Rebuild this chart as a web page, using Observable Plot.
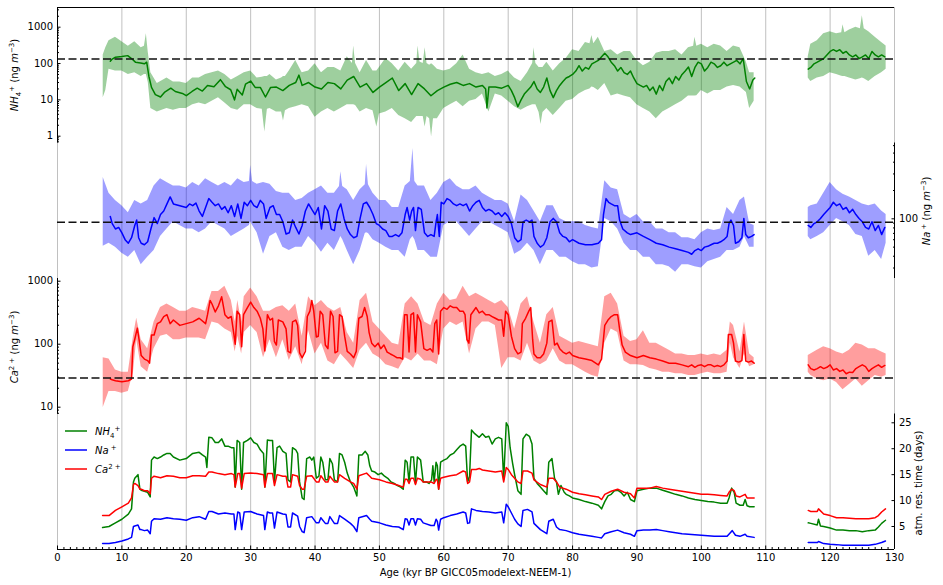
<!DOCTYPE html>
<html><head><meta charset="utf-8">
<script src="https://cdn.jsdelivr.net/npm/d3@7"></script>
<script src="https://cdn.jsdelivr.net/npm/@observablehq/plot@0.6"></script>
<style>
body{margin:0;background:#fff;}
#chart{position:relative;width:943px;height:585px;font-family:"DejaVu Sans",sans-serif;}
#chart svg{position:absolute;left:0;top:0;overflow:visible;}
</style></head><body><div id="chart"></div>
<script>
// ---------------- data ----------------
const xMajorTicks = [0,10,20,30,40,50,60,70,80,90,100,110,120,130];
const nh4Ticks = [1,10,100,1000];
const naTicks = [100];
const caTicks = [10,100,1000];
const resTicks = [5,10,15,20,25];
const nh4Ref = 134, naRef = 92, caRef = 29;
const nh4Domain = [0.65, 3483], naDomain = [23.2, 640], caDomain = [7.8, 1104], resDomain = [0.56, 26.7];

const nh4Mean = [[8.2,116],[8.5,133],[9,150],[10,157],[10.9,165],[11.5,137],[12.1,109],[12.9,104],[13.5,98],[13.85,109],[14.2,44],[14.6,22],[15.2,14],[16,12],[16.6,16],[17.6,21],[18.3,17],[19.4,15],[20,13],[20.9,17],[21.7,21],[22.5,17.5],[23.3,25],[24.3,23],[25.3,36],[26.1,23],[26.9,19],[27.5,10],[27.9,19.5],[28.7,13.6],[29.2,27],[30,33],[30.7,22],[31.5,22],[32.3,12],[33.1,22],
[34,22.5],[35,18],[36,25],[37,30],[37.5,48],[38,25],[39,30],[40,22.5],[41,20],[42,30],[43,28],[44,20],[45,35],[46,44],[47,22.5],[48,28],[49,16],[50,22.5],[51,30],[52,40],[53,18],[54,28],[55,14],[56,28],[57,20],[58,13],[59,18],[60,22.5],[61,27],[62,30],[63,25],[64,28],[65,22.5],
[66,25],[66.5,20],[66.7,6],[67,22.5],[68,22.5],[69,21],[70,25],[70.5,18],[71,11.5],[71.5,6.5],[72,10],[72.5,14.4],[73,18],[73.5,22.5],[74,32],[74.5,20],[75,16],[75.5,22.5],[76,40],[76.5,18],[77,11.5],[77.5,18],[78,25],[78.5,32],[79,40],[79.5,44],[80,50],[80.5,62],[81,87],[81.5,62],[82,78],[82.5,70],[83,98],[83.5,109],[84,122],[84.5,153],[85,192],[85.5,153],[86,109],[86.5,87],[87,62],[87.5,78],[88,56],[88.5,50],[89,62],[89.5,40],[90,28],[90.5,25],[91,22.5],[91.5,25],[92,18],[92.5,22.5],[93,14.4],[93.5,25],[94,18],[94.5,32],[95,40],[95.5,28],[96,44],[96.5,35],[97,50],[97.5,62],[98,80],
[98.5,44],[99,78],[99.5,109],[100,98],[100.5,62],[101,78],[101.5,109],[102,98],[102.5,78],[103,87],[103.5,109],[104,87],[104.5,98],[105,109],[105.5,122],[106,98],[106.5,137],[107,32],[107.5,20],[108,35],[108.3,40],
[112,NaN],
[116.6,70],[117,78],[117.5,98],[118,109],[118.5,122],[119,137],[119.5,172],[120,215],[120.5,241],[121,215],[121.5,241],[122,192],[122.5,215],[123,172],[123.5,153],[124,172],[124.5,137],[125,153],[125.5,172],[126,137],[126.5,215],[127,172],[127.5,153],[128,172],[128.5,153]];

const nh4Band = [[7.1,11.5,172],[7.5,18,270],[8,70,424],[9,62,531],[10,62,400],[11,50,300],[12,56,400],[13,44,270],[13.5,50,300],[13.8,50,665],[14.1,30,200],[14.5,5.8,56],[15.5,4.6,28],[17,5.8,40],[18,5.2,31],[19,5.8,31],[20,5.8,28],[21,7.3,40],[22,8.2,40],[23,7.3,50],[24,9.1,56],[25,11.5,62],[26,8.2,50],[27,5.8,35],[28,5.2,44],[29,7.3,56],[30,7.3,62],[31,5.8,40],[31.8,5.5,42],[32.2,1.3,44],[32.6,5.5,44],[33,5.8,50],
[34,4.6,35],[34.8,4.6,40],[35.1,2.6,44],[35.4,5,44],[36,5.8,62],[37,6.5,122],[38,7.3,56],[39,6.5,62],[40,3.3,98],[41,4.6,56],[42,5.8,78],[43,4.6,78],[44,5.8,62],[45,7.3,153],[45.8,7.3,100],[46,7.3,302],[46.3,7,100],[47,4.6,56],[48,5.8,122],[49,5,62],[49.6,1.8,62],[50,4.1,78],[51,4.6,137],[52,5.8,98],[53,3.7,62],[54,3.0,109],[55,2.4,70],[55.8,3.5,100],[56,3.5,302],[56.3,3.5,110],[56.8,3.5,100],[57.1,1.8,270],[57.4,3.5,100],[57.8,3,90],[58.1,0.95,98],[58.4,3,90],[59,3.0,70],[60,5.8,62],[61,7.3,70],[62,9.1,98],[63,6.5,172],[64,9.1,70],[65,10.2,56],
[66,14.4,50],[67,4.6,56],[68,14.4,44],[69,12.8,50],[70,9.1,62],[71,6.5,40],[72,5.2,32],[73,6.5,56],[73.8,7.3,100],[74,7.3,270],[74.3,7.3,100],[74.8,4.5,78],[75.1,2.1,78],[75.4,4.5,78],[76,5.8,109],[77,3.7,62],[78,5.8,98],[79,9.1,137],[80,10.2,241],[81,14.4,215],[82,18,378],[82.7,20,350],[83,22.5,594],[83.3,22,350],[84,18,531],[85,28,215],[86,12.8,241],[87,14.4,172],[88,12.8,215],[89,11.5,215],[90,7.3,122],[91,5.8,87],[92,4.6,109],[93,3.0,192],[94,4.6,215],[95,5.8,215],[96,7.3,241],[97,9.1,172],[98,12.8,270],
[98.8,12.8,300],[99,12.8,531],[99.3,13,300],[100,18,338],[101,14.4,270],[102,18,338],[103,18,302],[104,22.5,215],[105,25,302],[106,22.5,270],[107,16,109],[107.5,5.8,56],[108.2,9.1,56],
[112,NaN,NaN],
[116.6,40,153],[117,32,338],[118,40,424],[119,44,665],[120,56,745],[121,50,665],[121.8,45,700],[122,44,1170],[122.3,44,700],[123,40,834],[124,35,1000],[124.7,38,900],[125,40,2056],[125.3,38,900],[126,32,745],[127,44,531],[128,56,378],[128.7,70,302]];

const naMean = [[8.2,106],[8.5,89],[9,78],[9.5,81],[10,71],[10.5,60],[11,55],[11.5,63],[12,85],[12.3,97],[12.6,63],[13,55],[13.5,53],[14,57],[14.5,78],[15,103],[15.5,89],[16,111],[16.5,121],[17,144],[17.5,171],[18,144],[19,138],[20,132],[20.5,144],[21,138],[21.5,147],[22,121],[22.5,106],[23,132],[23.5,164],[24,150],[24.5,138],[25,144],[25.5,126],[26,135],[26.5,116],[27,138],[27.5,106],[28,144],[28.5,101],[29,150],[29.5,138],[30,157],[30.5,138],[31,132],[31.5,157],[32,144],[32.4,101],[33,132],[33.5,138],[34,111],[34.5,111],[35,93],[35.5,69],[36,71],[36.5,97],[37,81],[37.5,69],[38,85],[38.5,121],[39,144],[39.5,126],[40,111],[40.5,132],[41,78],[41.5,138],[42,121],[42.5,78],[43,75],[43.5,121],[44,144],[44.5,101],[45,78],[45.5,68],[46,63],[46.5,65],[47,101],[47.5,144],[48,150],[48.5,132],[49,111],[49.5,89],[50,85],[50.5,78],[51,75],[51.5,65],[52,65],[52.5,68],[53,65],[53.5,71],[54,111],[54.3,132],[54.7,97],[55,121],[55.3,132],[55.6,75],[56,132],[56.5,126],[57,71],[57.5,65],[58,68],[58.5,65],[58.8,93],[59,111],[59.3,65],[59.6,150],[60,144],[60.5,164],[61,157],[61.5,144],[62,138],[62.5,144],[63,138],[63.5,144],[64,121],[64.5,138],[65,150],[65.5,157],[66,132],[66.5,121],[67,126],[67.5,121],[68,111],[68.5,116],[69,106],[69.5,116],[70,106],[70.5,89],[71,63],[71.5,57],[72,60],[72.3,93],[72.8,97],[73.3,93],[73.7,97],[74,65],[74.5,55],[75,50],[75.5,53],[76,63],[76.5,93],[77,101],[77.5,93],[78,71],[78.5,65],[79,63],[79.5,57],[80,60],[81,55],[82,53],[83,53],[84,55],[84.5,60],[84.8,111],[85.2,164],[85.6,150],[86,144],[86.5,138],[87,138],[87.3,97],[87.8,78],[88.5,71],[89,68],[90,71],[91,65],[92,60],[93,55],[94,53],[95,50],[96,48],[97,46],[98,44],[98.5,42],[99,46],[99.5,48],[100,46],[100.5,50],[101,51],[101.5,53],[102,55],[102.5,55],[103,57],[103.5,60],[104,65],[104.3,89],[104.6,97],[105,85],[105.3,55],[105.8,57],[106.3,63],[106.6,101],[106.9,68],[107.3,63],[107.8,65],[108.2,68],
[112,NaN],
[116.6,85],[117,81],[117.5,89],[118,93],[118.5,101],[119,111],[119.5,121],[120,132],[120.5,150],[121,138],[121.5,144],[122,126],[122.5,132],[123,116],[123.5,126],[124,111],[124.5,101],[125,93],[125.5,81],[126,78],[126.5,93],[127,75],[127.5,85],[128,68],[128.5,81]];

const naBand = [[7.1,51,275],[8,55,187],[9,50,157],[10,43,138],[11,39,116],[12,46,157],[13,32.5,144],[14,39,157],[15,46,223],[16,65,266],[17,78,243],[18,93,223],[19,85,223],[20,78,213],[21,78,243],[22,71,223],[23,78,266],[24,93,243],[25,85,223],[26,78,243],[27,65,223],[28,71,266],[29,78,243],[29.8,85,250],[30,93,370],[30.3,85,250],[31,71,233],[32,42,243],[33,65,233],
[34,71,195],[35,50,187],[36,46,187],[37,50,157],[38,50,164],[39,65,187],[40,55,204],[41,44,223],[42,55,187],[43,46,187],[43.8,60,220],[44,65,316],[44.3,60,220],[45,46,204],[46,32.5,157],[47,46,204],[47.8,70,230],[48,71,377],[48.3,70,230],[49,60,187],[50,55,157],[51,50,157],[52,46,132],[53,46,132],[54,39,223],[54.8,60,250],[55.2,65,559],[55.5,60,250],[56,46,223],[57,46,223],[58,39,157],[59,39,187],[60,85,243],[61,93,266],[62,93,223],[63,78,204],[64,65,204],[65,78,223],
[66,93,187],[67,93,171],[68,85,157],[69,78,157],[70,71,144],[71,42,93],[72,46,179],[73,55,157],[74,46,121],[75,32.5,93],[76,46,138],[77,46,138],[78,39,101],[79,39,93],[80,35,93],[81,32.5,93],[82,32.5,85],[83,30,81],[84,31,78],[85,101,254],[86,93,213],[87,78,204],[88,55,111],[89,46,101],[90,46,111],[91,39,93],[92,39,93],[93,32.5,78],[94,32.5,78],[95,31,71],[96,27,71],[97,32.5,63],[98,32.5,63],
[99,31,60],[100,30,71],[101,35,78],[102,37,75],[103,39,78],[104,46,132],[105,46,111],[106,50,157],[106.7,65,171],[107.5,50,89],[108.2,50,85],
[112,NaN,NaN],
[116.6,65,132],[117,60,138],[118,65,144],[119,71,187],[120,85,243],[121,101,204],[122,93,182],[123,85,171],[124,68,157],[125,65,144],[126,40,138],[127,46,144],[128,37,121],[128.7,55,111]];

const caMean = [[8.2,28],[8.5,27.3],[9,26.3],[10,25.3],[11,26.3],[11.5,28],[11.7,91],[12,120],[12.4,180],[12.7,113],[13,66],[13.5,58],[14,55],[14.3,50],[14.6,140],[15,140],[15.5,212],[16,226],[16.5,275],[17,294],[17.5,212],[18,242],[19,199],[20,212],[21,226],[22,258],[23,212],[23.3,294],[23.7,496],[24,435],[24.5,325],[25,407],[25.5,565],[26,294],[26.5,258],[27,275],[27.4,143],[27.6,100],[27.9,335],[28.3,294],[28.6,91],[28.9,294],[29.5,382],[30,465],[30.5,382],[31,335],[31.5,258],[31.9,175],[32.2,78],[32.6,294],[33,242],[33.4,258],[33.7,110],[34,97],[34.3,242],[35,226],[35.5,175],[35.8,77],[36.2,73],[36.5,226],[37,242],[37.3,199],[37.6,73],[38,61],[38.5,77],[38.8,275],[39.2,335],[39.5,496],[39.8,335],[40.2,130],[40.5,134],[40.8,335],[41.2,294],[41.6,97],[42,85],[42.4,335],[42.8,275],[43.1,73],[43.5,77],[43.8,294],[44.2,275],[44.6,134],[45,77],[45.5,70],[46,61],[46.4,77],[46.8,258],[47.3,275],[47.7,382],[48.1,275],[48.4,153],[48.8,104],[49.3,91],[49.8,104],[50.2,85],[50.7,97],[51.2,75],[51.7,70],[52.2,66],[52.7,61],[53.2,61],[53.6,58],[53.9,294],[54.3,294],[54.6,75],[54.9,294],[55.3,314],[55.6,75],[55.9,294],[56.4,226],[56.9,85],[57.4,80],[57.9,85],[58.3,75],[58.6,212],[58.9,242],[59.2,70],[59.5,335],[60,382],[60.5,358],[61,407],[61.5,382],[62,382],[62.5,335],[63,335],[63.3,294],[63.6,118],[63.9,104],[64.2,294],[65,382],[65.5,314],[66,335],[66.5,294],[67,294],[67.5,275],[68,258],[68.5,242],[69,242],[69.3,134],[69.6,335],[70,294],[70.5,134],[71,85],[71.5,70],[72,75],[72.2,212],[72.7,258],[73.2,335],[73.5,382],[73.8,118],[74,70],[74.5,61],[75,61],[75.5,70],[76,104],[76.3,226],[76.8,242],[77.2,97],[77.6,104],[78,85],[78.5,75],[79,70],[79.5,75],[80,66],[81,61],[82,58],[83,55],[84,47],[84.5,58],[85,199],[85.5,242],[86,275],[86.5,294],[87,294],[87.3,175],[87.7,97],[88.2,75],[89,66],[90,61],[91,66],[92,61],[93,58],[94,54],[95,50],[96,50],[97,47],[98,44],[98.5,47],[99,43],[99.5,46],[100,47],[100.5,44],[101,47],[101.5,47],[102,44],[102.5,46],[103,44],[103.5,47],[104,54],[104.2,143],[104.7,143],[105,104],[105.3,54],[105.8,52],[106.3,55],[106.6,143],[106.9,54],[107.3,52],[107.8,54],[108.2,50],
[112,NaN],
[116.6,47],[117,41],[117.5,39],[118,41],[118.5,44],[119,41],[119.5,43],[120,47],[120.5,39],[121,41],[121.5,37],[122,39],[122.5,34],[123,36],[123.5,35.5],[124,41],[124.5,44],[125,47],[125.5,44],[126,37],[126.5,41],[127,44],[127.5,47],[128,43],[128.5,46]];

const caBand = [[7.1,9.9,61],[8,17.8,58],[9,17.8,39],[10,16.6,36],[11,17.8,36],[11.8,36,134],[12.3,118,258],[13,44,118],[14,36,85],[15,85,226],[16,134,382],[17,143,435],[18,118,382],[19,118,335],[20,126,335],[21,126,382],[22,126,358],[23,118,335],[24,226,687],[25,212,687],[26,175,835],[27,153,496],[27.6,75,226],[28,134,496],[28.6,70,226],[29,153,565],[30,199,783],[31,153,565],[32,61,335],[33,118,335],
[34,61,382],[35,118,407],[36,55,335],[37,91,435],[38,47,134],[39,163,565],[40,70,407],[41,104,496],[42,54,382],[43,47,335],[44,70,382],[45,54,153],[46,41,104],[47,80,496],[48,104,644],[49,70,226],[50,61,175],[51,47,134],[52,44,104],[53,40,97],[54,61,435],[55,54,565],[56,70,435],[57,54,226],[58,54,199],[59,47,435],[60,175,644],[61,226,496],[62,199,520],[63,226,835],[64,70,565],[65,175,644],
[66,226,565],[67,226,496],[68,199,435],[69,41,496],[70,61,382],[71,61,175],[72,54,435],[73,104,565],[74,54,226],[75,47,104],[76,54,294],[77,85,382],[78,54,134],[79,47,118],[80,47,104],[81,41,110],[82,36,104],[83,32,97],[84,30,91],[85,104,565],[86,175,644],[87,153,435],[88,54,134],[89,47,110],[90,47,118],[91,46,163],[92,41,104],[93,39,104],[94,36,91],[95,36,80],[96,34,70],[97,34,70],[98,32,66],
[99,32,66],[100,34,70],[101,36,66],[102,34,70],[103,34,66],[104,36,80],[104.5,104,226],[105,61,199],[106,41,75],[106.7,70,226],[107.5,44,70],[108.2,47,61],
[112,NaN,NaN],
[116.6,36,66],[117,32,70],[118,28,80],[119,26.3,91],[120,28,85],[121,24.6,75],[122,19,70],[123,23,80],[124,28,104],[125,21.6,97],[126,26.3,85],[127,32,85],[128,30,75],[128.7,32,70]];

const nh4Res = [[7,4.8],[8,5.0],[9,5.7],[10,6.4],[11,7.4],[11.5,8.4],[11.8,13.6],[12,14.3],[12.5,15.0],[12.8,12.2],[13,12.0],[13.5,11.8],[14,11.6],[14.4,10.7],[14.6,17.8],[15,18.4],[15.5,18.1],[16,18.4],[16.5,18.8],[17,19.1],[17.5,19.1],[18,18.4],[19,17.8],[20,18.1],[21,19.1],[22,19.3],[22.5,18.8],[23,18.4],[23.2,16.4],[23.5,22.2],[24,22.1],[24.5,21.2],[25,21.2],[25.5,21.9],[26,20.5],[26.5,20.5],[27,20.2],[27.4,20.2],[27.6,12.6],[27.9,21.6],[28.3,21.2],[28.6,12.2],[28.9,21.2],[29.5,21.6],[30,22.1],[30.5,21.2],[31,20.9],[31.5,19.8],[32,19.1],[32.2,12.6],[32.6,21.7],[33,21.6],[33.4,21.6],[33.7,13.6],[34.1,20.2],[34.5,20.5],[35,19.5],[35.5,19.1],[35.8,14.0],[36.2,13.6],[36.5,20.2],[37,19.8],[37.3,19.1],[37.6,13.6],[38,10.5],[38.3,10.2],[38.7,18.1],[39.2,18.4],[39.5,17.8],[39.8,18.4],[40.2,14.3],[40.6,14.7],[40.9,18.4],[41.2,17.4],[41.6,14.0],[42,14.0],[42.3,18.1],[42.7,17.1],[43,14.0],[43.5,13.6],[43.8,19.1],[44.2,18.8],[44.6,17.4],[45,15.3],[45.5,13.6],[46,12.6],[46.5,10.9],[46.8,18.8],[47.3,18.8],[47.8,19.5],[48.2,18.8],[48.5,16.7],[48.8,15.7],[49.3,15.5],[49.8,15.0],[50.3,15.3],[50.8,14.7],[51.3,14.3],[51.8,13.6],[52.3,13.3],[52.8,12.9],[53.3,12.6],[53.7,12.2],[54,17.8],[54.3,17.4],[54.6,13.6],[54.9,18.4],[55.3,18.4],[55.6,13.3],[55.9,18.4],[56.4,17.8],[56.8,13.6],[57.3,13.6],[57.7,13.3],[58.1,14.0],[58.3,16.7],[58.5,13.6],[58.8,17.4],[59,16.7],[59.2,12.2],[59.5,17.4],[60,17.8],[60.5,18.1],[61,18.8],[61.5,19.1],[62,19.8],[62.5,20.5],[63,20.9],[63.4,20.5],[63.7,13.6],[64,14.7],[64.3,23.6],[64.8,22.9],[65.5,22.2],[66,22.9],[66.5,22.2],[67,22.4],[67.5,20.9],[68,21.9],[68.5,22.2],[69,21.9],[69.3,14.0],[69.7,25.0],[70,24.3],[70.3,20.2],[70.7,17.1],[71,15.0],[71.5,11.9],[72,11.2],[72.3,21.9],[72.8,22.8],[73.3,22.4],[73.7,20.9],[74,14.3],[74.5,13.3],[75,12.6],[75.5,11.9],[76,11.2],[76.3,17.4],[76.8,18.1],[77.2,14.3],[77.5,13.6],[77.8,11.2],[78.2,12.9],[78.7,11.6],[79,11.2],[79.5,10.9],[80,10.5],[81,10.2],[82,9.8],[83,9.5],[84,9.1],[84.5,8.4],[85,9.8],[85.5,10.9],[86,11.2],[86.5,11.9],[87,12.0],[87.5,11.6],[88,10.9],[88.5,11.6],[89,10.2],[89.6,9.8],[90,11.9],[91,12.2],[92,12.4],[93,12.4],[94,12.0],[95,11.6],[96,11.2],[97,10.9],[98,10.5],[99,10.2],[100,10.0],[101,9.8],[102,9.7],[103,9.5],[104,9.5],[104.3,10.5],[104.7,12.4],[105.1,11.6],[105.4,9.5],[106,9.1],[106.5,9.1],[106.8,10.2],[107.1,9.0],[107.5,8.8],[108.2,8.8],
[112,NaN],
[116.6,5.7],[117,5.6],[118,5.3],[118.2,6.4],[118.5,5.1],[119,5.0],[120,4.7],[121,4.3],[122,4.3],[123,4.2],[124,4.2],[125,4.0],[126,4.2],[127,4.3],[127.5,4.9],[128,5.6],[128.6,6.2]];

const caRes = [[7,7.1],[8,7.1],[9,8.1],[10,8.8],[11,9.5],[11.5,10.5],[11.8,13.1],[12,13.3],[12.5,12.9],[12.8,12.2],[13,12.2],[13.5,11.9],[14,11.9],[14.4,11.3],[14.6,14.3],[15,14.7],[16,14.4],[17,14.8],[18,14.7],[19,14.4],[20,14.4],[21,14.8],[22,14.8],[23,14.7],[23.5,15.5],[24,15.5],[25,15.2],[26,15.0],[27,15.2],[27.4,15.0],[27.6,12.6],[28,15.2],[28.3,15.2],[28.6,12.4],[29,15.2],[30,15.3],[31,15.2],[32,15.0],[32.2,12.6],[32.6,15.2],[33,15.2],[33.4,15.2],[33.7,12.9],[34.1,15.0],[35,14.7],[35.5,14.7],[35.8,12.6],[36.2,12.6],[36.5,15.0],[37.3,14.7],[37.6,12.9],[38,12.2],[38.3,12.2],[38.7,14.7],[39.5,14.8],[40.2,13.6],[40.6,13.6],[40.9,14.8],[41.6,13.6],[42,13.6],[42.3,14.7],[43,13.6],[43.5,13.6],[43.8,15.0],[44.6,14.3],[45.5,13.6],[46,13.3],[46.5,12.2],[46.8,14.8],[48,15.3],[48.5,14.7],[48.8,14.3],[50,14.0],[51,13.6],[52,13.3],[53,12.9],[53.7,12.6],[54,14.1],[54.3,14.1],[54.6,13.3],[54.9,14.3],[55.3,14.3],[55.6,13.1],[55.9,14.3],[56.4,14.1],[56.8,13.6],[58,13.6],[58.5,13.3],[58.8,14.1],[59,14.0],[59.2,12.2],[59.5,14.3],[60,14.5],[61,14.8],[62,15.0],[63,15.7],[63.4,15.5],[63.7,13.3],[64,13.6],[64.3,16.0],[65,16.0],[65.5,16.2],[66,15.9],[67,15.7],[68,15.5],[69,15.7],[69.3,13.6],[69.7,16.4],[70,16.0],[70.5,15.0],[71,14.3],[71.5,13.6],[72,13.3],[72.3,15.7],[73,15.7],[73.7,15.3],[74,14.0],[75,13.1],[76,12.6],[76.3,14.3],[77,14.3],[77.5,13.6],[78,12.6],[79,12.2],[80,11.6],[81,11.3],[82,11.1],[83,10.9],[84,10.7],[84.5,10.2],[85,11.2],[86,11.8],[87,12.2],[88,11.6],[89,11.3],[89.6,10.5],[90,12.4],[91,12.4],[92,12.4],[93,12.7],[94,12.4],[95,12.2],[96,12.0],[97,11.8],[98,11.6],[99,11.4],[100,11.2],[101,11.2],[102,11.1],[103,11.0],[104,10.9],[104.3,11.6],[104.7,12.2],[105.1,11.9],[105.4,10.9],[106,10.7],[106.8,11.2],[107.1,10.5],[108.2,10.5],
[112,NaN],
[116.6,8.1],[117,7.9],[118,7.9],[118.2,8.4],[119,7.4],[120,7.1],[121,6.7],[122,6.7],[123,6.6],[124,6.5],[125,6.5],[126,6.5],[127,6.7],[127.5,7.1],[128,7.8],[128.6,8.4]];

const naRes = [[7,1.7],[8,1.7],[9,1.9],[10,2.2],[11,2.6],[11.5,2.9],[11.8,5.0],[12,5.1],[12.5,5.3],[12.8,4.4],[13,4.4],[13.5,4.2],[14,4.3],[14.4,3.6],[14.6,6.0],[15,6.5],[16,6.4],[17,6.7],[18,6.5],[19,6.4],[20,6.2],[21,6.7],[22,6.9],[23,6.4],[23.5,7.9],[24,7.9],[25,7.4],[26,7.6],[27,7.4],[27.4,7.4],[27.6,4.4],[28,7.8],[28.3,7.6],[28.6,4.4],[29,7.8],[30,7.9],[31,7.4],[32,7.1],[32.2,4.4],[32.6,7.8],[33,7.6],[33.4,7.6],[33.7,4.7],[34.1,7.8],[35,7.4],[35.5,7.3],[35.8,4.9],[36.2,4.9],[36.5,7.6],[37.3,7.0],[37.6,5.0],[38,4.0],[38.3,3.8],[38.7,6.7],[39.5,6.9],[40.2,5.7],[40.6,5.7],[40.9,6.7],[41.6,5.6],[42,5.6],[42.3,6.9],[43,5.6],[43.5,5.6],[43.8,7.1],[44.6,6.4],[45.5,5.6],[46,5.0],[46.5,4.0],[46.8,6.7],[48,7.1],[48.5,6.4],[48.8,6.0],[50,5.7],[51,5.3],[52,5.0],[53,4.9],[53.7,4.4],[54,6.5],[54.3,6.4],[54.6,5.3],[54.9,6.5],[55.3,6.5],[55.6,5.3],[55.9,6.5],[56.4,6.4],[56.8,5.7],[58,5.2],[58.5,5.2],[58.8,6.4],[59,6.0],[59.2,4.3],[59.5,6.4],[60,6.7],[61,7.1],[62,7.4],[63,7.8],[63.4,7.6],[63.7,5.6],[64,5.7],[64.3,8.4],[65,8.1],[66,7.9],[67,7.8],[68,7.6],[69,7.8],[69.3,5.7],[69.7,9.3],[70,8.8],[70.5,7.6],[71,6.4],[71.5,5.5],[72,5.0],[72.3,8.1],[73,8.3],[73.7,7.8],[74,5.6],[75,4.4],[76,3.6],[76.3,6.0],[77,6.4],[77.5,4.9],[78,4.4],[79,4.2],[80,3.8],[81,3.5],[82,3.3],[83,3.1],[84,2.9],[84.5,2.8],[85,3.6],[86,4.0],[87,4.3],[88,3.8],[89,3.5],[89.6,3.1],[90,4.2],[91,4.3],[92,4.3],[93,4.4],[94,4.2],[95,4.0],[96,3.8],[97,3.6],[98,3.5],[99,3.4],[100,3.3],[101,3.2],[102,3.1],[103,3.1],[104,3.1],[104.5,3.8],[104.8,4.2],[105.3,3.3],[106,3.1],[106.8,3.5],[107.1,3.1],[108.2,2.9],
[112,NaN],
[116.6,1.9],[117,1.9],[118,1.9],[118.2,2.1],[119,1.7],[120,1.55],[121,1.5],[122,1.4],[123,1.4],[124,1.4],[125,1.4],[126,1.4],[127,1.55],[128,1.9],[128.6,2.2]];

// ---------------- layout ----------------
const W = 943, H = 585, ML = 57, MR = 49;
const P = [[7,142.5],[142.5,278],[278,413.5],[413.5,549]];
const FONT = "DejaVu Sans, Liberation Sans, sans-serif";
const root = document.getElementById("chart");
const ax = d => d[0];

function logMinor(domain, majors) {
  const out = [];
  for (let e = -1; e <= 4; e++) for (let s = 1; s <= 9; s++) {
    const v = s * Math.pow(10, e);
    if (v >= domain[0] && v <= domain[1] && !majors.includes(v)) out.push(v);
  }
  return out;
}

function panel(i, y, marks, xAxis = false) {
  const [top, bottom] = P[i];
  const svg = Plot.plot({
    width: W, height: H,
    marginLeft: ML, marginRight: MR, marginTop: top, marginBottom: H - bottom,
    x: {domain: [0, 130], axis: xAxis ? undefined : null},
    y: y,
    style: {background: "transparent", fontFamily: FONT, fontSize: "10px", color: "black", overflow: "visible"},
    marks
  });
  root.appendChild(svg);
  return svg;
}

function yAxes(anchor, majors, minors) {
  return [
    Plot.axisY({anchor, ticks: majors, tickSize: -3.5, tickPadding: 8, tickFormat: d => String(d), label: null, stroke: "black", fill: "black"}),
    Plot.axisY({anchor, ticks: minors, tickSize: -2, tickPadding: 0, tickFormat: () => "", label: null, stroke: "black"})
  ];
}

// background grid
root.appendChild(Plot.plot({
  width: W, height: H, marginLeft: ML, marginRight: MR, marginTop: P[0][0], marginBottom: H - P[3][1],
  x: {domain: [0, 130], axis: null}, y: {domain: [0, 1], axis: null},
  style: {background: "white"},
  marks: [Plot.ruleX(xMajorTicks, {stroke: "#b0b0b0", strokeWidth: 0.8})]
}));

const dash = {stroke: "#111", strokeWidth: 1.5, strokeDasharray: "8,3.5"};

// Panel 1: NH4+
panel(0, {type: "log", domain: nh4Domain}, [
  Plot.areaY(nh4Band, {x: ax, y1: d => d[1], y2: d => d[2], fill: "green", fillOpacity: 0.38, clip: true}),
  Plot.line(nh4Mean, {x: ax, y: d => d[1], stroke: "green", strokeWidth: 1.5, clip: true}),
  Plot.ruleY([nh4Ref], dash),
  Plot.ruleX([0], {stroke: "black"}),
  Plot.ruleY([nh4Domain[1]], {stroke: "black"}),
  ...yAxes("left", nh4Ticks, logMinor(nh4Domain, nh4Ticks))
]);

// Panel 2: Na+
panel(1, {type: "log", domain: naDomain}, [
  Plot.areaY(naBand, {x: ax, y1: d => d[1], y2: d => d[2], fill: "blue", fillOpacity: 0.38, clip: true}),
  Plot.line(naMean, {x: ax, y: d => d[1], stroke: "blue", strokeWidth: 1.5, clip: true}),
  Plot.ruleY([naRef], dash),
  Plot.ruleX([130], {stroke: "black"}),
  ...yAxes("right", naTicks, logMinor(naDomain, naTicks))
]);

// Panel 3: Ca2+
panel(2, {type: "log", domain: caDomain}, [
  Plot.areaY(caBand, {x: ax, y1: d => d[1], y2: d => d[2], fill: "red", fillOpacity: 0.38, clip: true}),
  Plot.line(caMean, {x: ax, y: d => d[1], stroke: "red", strokeWidth: 1.5, clip: true}),
  Plot.ruleY([caRef], dash),
  Plot.ruleX([0], {stroke: "black"}),
  ...yAxes("left", caTicks, logMinor(caDomain, caTicks))
]);

// Panel 4: residence time
const xMinor = d3.range(0, 131, 1).filter(v => v % 10 !== 0);
panel(3, {domain: resDomain}, [
  Plot.line(nh4Res, {x: ax, y: d => d[1], stroke: "green", strokeWidth: 1.5}),
  Plot.line(naRes, {x: ax, y: d => d[1], stroke: "blue", strokeWidth: 1.5}),
  Plot.line(caRes, {x: ax, y: d => d[1], stroke: "red", strokeWidth: 1.5}),
  Plot.ruleX([130], {stroke: "black"}),
  Plot.ruleY([resDomain[0]], {stroke: "black"}),
  Plot.axisY({anchor: "right", ticks: resTicks, tickSize: -3.5, tickPadding: 8, tickFormat: d => String(d), label: null}),
  Plot.axisX({anchor: "bottom", ticks: xMajorTicks, tickSize: -3.5, tickPadding: 7.5, tickFormat: d => String(d), label: null}),
  Plot.axisX({anchor: "bottom", ticks: xMinor, tickSize: -2, tickPadding: 0, tickFormat: () => "", label: null})
], true);

// ---------------- text overlay (labels & legend) ----------------
const ov = d3.select(root).append("svg").attr("width", W).attr("height", H)
  .style("font-family", FONT).style("font-size", "10px");

function rich(g, parts, size = 10) {
  const t = g.append("text").attr("font-size", size).attr("fill", "black");
  let shift = 0;
  for (const [s, kind] of parts) {
    const target = kind.includes("sub") ? 3 : kind.includes("sup") ? -4 : 0;
    const ts = t.append("tspan").text(s).attr("dy", target - shift);
    shift = target;
    if (kind.includes("i")) ts.attr("font-style", "italic");
    if (target !== 0) ts.attr("font-size", size * 0.7);
  }
  return t;
}
function vlabel(x, y, parts) {
  const g = ov.append("g").attr("transform", `translate(${x},${y}) rotate(-90)`);
  rich(g, parts).attr("text-anchor", "middle");
}
vlabel(18, 75, [["NH","i"],["4","sub"],["+","sup"],[" (ng ",""],["m","i"],["−3","sup"],[")",""]]);
vlabel(929.5, 211, [["Na","i"],[" +","sup"],[" (ng ",""],["m","i"],["−3","sup"],[")",""]]);
vlabel(18, 347, [["Ca","i"],["2 +","sup"],[" (ng ",""],["m","i"],["−3","sup"],[")",""]]);
vlabel(921.5, 483, [["atm. res. time (days)",""]]);

ov.append("text").attr("x", (ML + W - MR) / 2).attr("y", 576).attr("text-anchor", "middle")
  .attr("font-size", 10).text("Age (kyr BP GICC05modelext-NEEM-1)");

const legendItems = [
  {color: "green", parts: [["NH","i"],["4","sub"],["+","sup"]]},
  {color: "blue", parts: [["Na","i"],[" +","sup"]]},
  {color: "red", parts: [["Ca","i"],["2 +","sup"]]}
];
legendItems.forEach((it, k) => {
  const yy = 431 + k * 19;
  ov.append("line").attr("x1", 65).attr("x2", 87).attr("y1", yy).attr("y2", yy)
    .attr("stroke", it.color).attr("stroke-width", 1.5);
  const g = ov.append("g").attr("transform", `translate(95,${yy + 3.5})`);
  rich(g, it.parts);
});
</script></body></html>
